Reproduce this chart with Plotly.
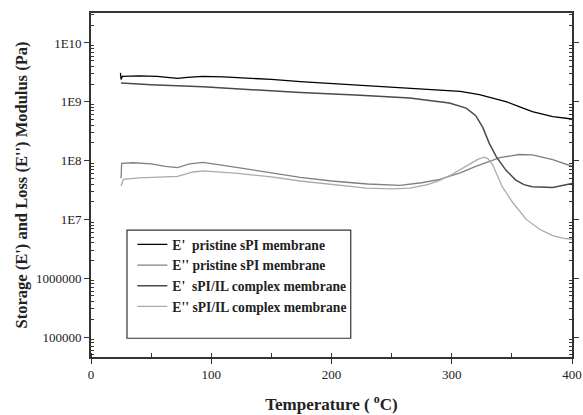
import plotly.graph_objects as go

# E' pristine sPI membrane
t1 = [24.5, 25, 26, 40, 55, 65, 72, 80, 93, 110, 130, 150, 174, 200, 230, 265, 290, 307, 323, 335, 345, 356, 367, 384, 400]
v1 = [3.1e9, 2.4e9, 2.7e9, 2.75e9, 2.7e9, 2.55e9, 2.5e9, 2.6e9, 2.7e9, 2.65e9, 2.55e9, 2.4e9, 2.2e9, 2.05e9, 1.9e9, 1.72e9,
      1.6e9, 1.5e9, 1.32e9, 1.15e9, 1.01e9, 8.3e8, 6.8e8, 5.6e8, 5.1e8]

# E'' pristine sPI membrane
t2 = [25, 25.5, 35, 50, 62, 72, 82, 93, 110, 130, 150, 174, 200, 230, 257, 275, 290, 307, 320, 329, 340, 356, 367, 384, 400]
v2 = [5.0e7, 9.0e7, 9.2e7, 8.8e7, 8.0e7, 7.6e7, 8.8e7, 9.3e7, 8.3e7, 7.2e7, 6.2e7, 5.2e7, 4.5e7, 4.0e7, 3.8e7, 4.2e7,
      4.8e7, 6.2e7, 8.0e7, 9.4e7, 1.12e8, 1.27e8, 1.25e8, 1.04e8, 8.0e7]

# E' sPI/IL complex membrane
t3 = [25, 50, 93, 130, 174, 220, 265, 298, 312, 320, 326, 331, 337, 345, 353, 360, 367, 384, 400]
v3 = [2.08e9, 1.95e9, 1.8e9, 1.62e9, 1.44e9, 1.3e9, 1.16e9, 9.5e8, 7.8e8, 5.8e8, 3.6e8, 2.0e8, 1.17e8, 6.9e7, 4.7e7,
      3.9e7, 3.6e7, 3.5e7, 4.1e7]

# E'' sPI/IL complex membrane
t4 = [25, 27, 40, 60, 72, 85, 93, 120, 150, 174, 200, 229, 250, 265, 280, 290, 300, 307, 315, 322, 327, 330, 334, 338,
      342, 351, 362, 373, 384, 392, 400]
v4 = [3.7e7, 4.8e7, 5.1e7, 5.2e7, 5.4e7, 6.4e7, 6.7e7, 6.1e7, 5.3e7, 4.5e7, 3.9e7, 3.4e7, 3.3e7, 3.4e7, 3.9e7, 4.6e7,
      5.8e7, 7.0e7, 8.8e7, 1.06e8, 1.14e8, 1.08e8, 8.5e7, 5.5e7, 3.6e7, 1.9e7, 1.0e7, 6.8e6, 5.3e6, 4.8e6, 4.6e6]

names = ["E'  pristine sPI membrane", "E'' pristine sPI membrane",
         "E'  sPI/IL complex membrane", "E'' sPI/IL complex membrane"]

y_tickvals = [1e5, 1e6, 1e7, 1e8, 1e9, 1e10]
y_ticktext = ["100000", "1000000", "1E7", "1E8", "1E9", "1E10"]
y_minorvals = [m * 10 ** e for e in range(4, 11) for m in range(2, 10)]
x_tickvals = [0, 100, 200, 300, 400]

series = [(t1, v1, "#000000", 1.3), (t2, v2, "#808080", 1.3), (t3, v3, "#4a4a4a", 1.5), (t4, v4, "#aaaaaa", 1.3)]

fig = go.Figure()
for i, ((t, v, c, w), n) in enumerate(zip(series, names)):
    fig.add_trace(go.Scatter(x=t, y=v, mode="lines", name=n, legendgroup=str(i),
                             line=dict(color=c, width=w)))

serif = "Liberation Serif, Times New Roman, serif"

fig.update_layout(
    width=583, height=415,
    margin=dict(l=91, r=11, t=13, b=58),
    plot_bgcolor="white", paper_bgcolor="white",
    font=dict(family=serif, size=13, color="#222"),
    legend=dict(x=0.086, y=0.372, xanchor="left", yanchor="top",
                bgcolor="rgba(0,0,0,0)", borderwidth=0,
                font=dict(family=serif, size=13.6, color="#222", weight="bold"),
                tracegroupgap=0),
    shapes=[dict(type="rect", xref="paper", yref="paper",
                 x0=0.0748, x1=0.540, y0=0.0545, y1=0.369,
                 line=dict(color="#333", width=1.2), fillcolor="rgba(0,0,0,0)")],
)

fig.update_xaxes(
    automargin=False,
    range=[0, 400], tickvals=x_tickvals, ticks="outside", ticklen=5, tickwidth=1.3,
    tickcolor="#333", showline=True, linecolor="#333", linewidth=1.6, mirror=True,
    showgrid=False, zeroline=False,
    minor=dict(dtick=50, ticks="inside", ticklen=4, tickcolor="#333", showgrid=False),
    title=dict(text="Temperature ( <sup>o</sup>C)", font=dict(family=serif, size=17, color="#222", weight="bold"),
               standoff=17),
)

fig.update_yaxes(
    automargin=False,
    type="log", range=[4.66, 10.51], tickvals=y_tickvals, ticktext=y_ticktext,
    ticks="outside", ticklen=5, tickwidth=1.3, tickcolor="#333",
    showline=True, linecolor="#333", linewidth=1.6, mirror="allticks",
    showgrid=False, zeroline=False,
    minor=dict(tickvals=y_minorvals, ticks="inside", ticklen=3, tickcolor="#333", showgrid=False),
    title=dict(text="Storage (E') and Loss (E'') Modulus (Pa)",
               font=dict(family=serif, size=16.5, color="#222", weight="bold"), standoff=4),
)

fig.write_html("out.html")
